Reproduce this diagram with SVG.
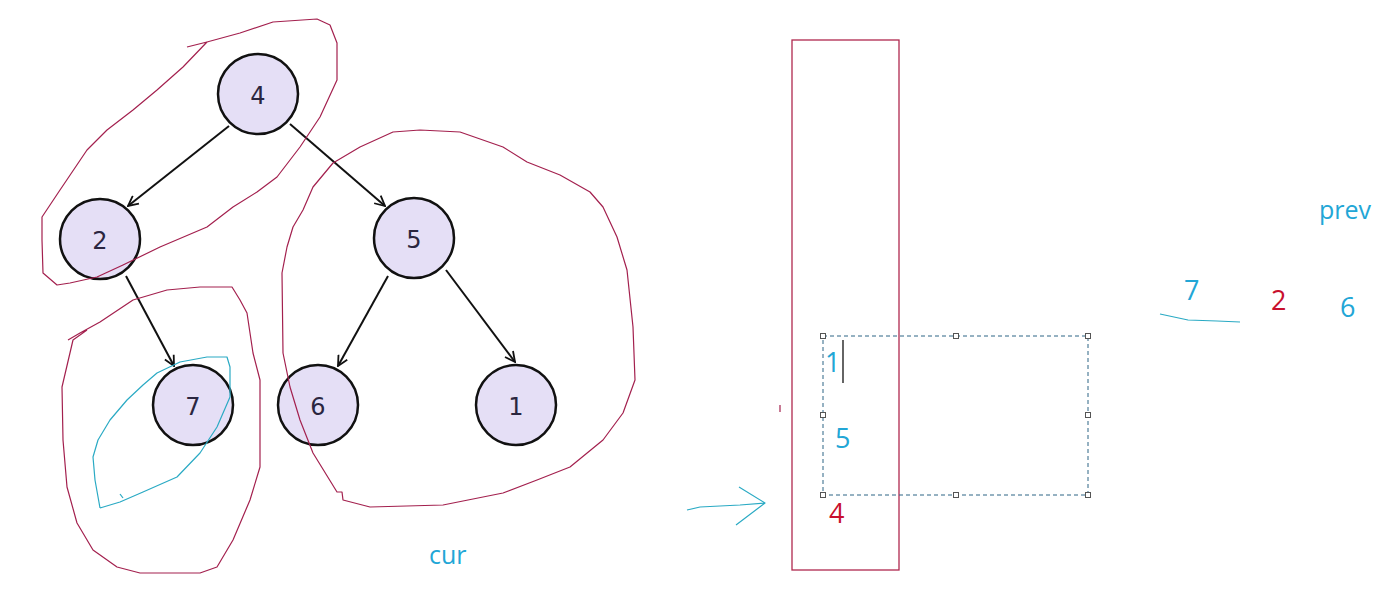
<svg xmlns="http://www.w3.org/2000/svg" width="1397" height="599" viewBox="0 0 1397 599">
<style>
.node circle{fill:#e5dff6;stroke:#111;stroke-width:2.5}
.node text{font-family:"DejaVu Sans",sans-serif;font-size:24px;fill:#2a2640;text-anchor:middle;dominant-baseline:central}
.edge{stroke:#111;stroke-width:2;fill:none;marker-end:url(#ah)}
.red{fill:none;stroke:#a3204e;stroke-width:1.2;stroke-linejoin:round}
.cy{fill:none;stroke:#2aaac4;stroke-width:1.2;stroke-linejoin:round}
.tc{font-family:"Open Sans","Noto Sans",sans-serif;font-size:25px;fill:#22a6d6}
.td{font-family:"Open Sans","Noto Sans",sans-serif;font-size:27px;fill:#22a6d6}
.tr{font-family:"Open Sans","Noto Sans",sans-serif;font-size:27px;fill:#c8102e}
.h{fill:#fff;stroke:#555;stroke-width:1}
</style>
<defs>
<marker id="ah" viewBox="0 0 12 12" refX="11" refY="6" markerWidth="12" markerHeight="12" markerUnits="userSpaceOnUse" orient="auto">
<path d="M1,1 L11,6 L1,11" fill="none" stroke="#111" stroke-width="1.8"/>
</marker>
</defs>
<rect width="1397" height="599" fill="#fff"/>
<g id="connectors">
<line class="edge" x1="229" y1="126" x2="128" y2="206"/>
<line class="edge" x1="290" y1="124" x2="385" y2="206"/>
<line class="edge" x1="126" y1="276" x2="174" y2="366"/>
<line class="edge" x1="388" y1="276" x2="338" y2="366"/>
<line class="edge" x1="446" y1="270" x2="515" y2="362"/>
</g>
<g id="node-4" class="node"><circle cx="258" cy="94" r="40"/><text x="258" y="96">4</text></g>
<g id="node-2" class="node"><circle cx="100" cy="239" r="40"/><text x="100" y="241">2</text></g>
<g id="node-5" class="node"><circle cx="414" cy="238" r="40"/><text x="414" y="240">5</text></g>
<g id="node-7" class="node"><circle cx="193" cy="405" r="40"/><text x="193" y="407">7</text></g>
<g id="node-6" class="node"><circle cx="318" cy="405" r="40"/><text x="318" y="407">6</text></g>
<g id="node-1" class="node"><circle cx="516" cy="405" r="40"/><text x="516" y="407">1</text></g>
<g id="annotations">
<path class="red" d="M187,47 L207,42 L240,33 L273,22 L317,19 L330,25 L337,43 L337,80 L320,117 L300,147 L277,177 L257,192 L233,207 L207,227 L160,247 L123,265 L97,277 L70,283 L57,285 L43,273 L42,240 L42,217 L60,190 L87,150 L107,130 L133,110 L157,90 L183,67 L207,42"/>
<path class="red" d="M68,340 L80,333 L100,322 L133,300 L167,290 L200,287 L232,287 L240,300 L247,313 L253,353 L260,380 L260,467 L250,500 L233,540 L217,567 L200,573 L140,573 L117,567 L93,550 L77,523 L67,487 L63,440 L62,387 L73,340 L87,330"/>
<path class="red" d="M333,163 L360,147 L393,132 L420,130 L460,132 L503,147 L527,162 L560,175 L590,192 L603,207 L617,237 L627,270 L633,327 L635,380 L623,413 L603,440 L570,467 L537,480 L503,493 L443,505 L370,507 L343,500 L342,492 L337,492 L313,453 L300,420 L290,387 L283,353 L282,273 L287,247 L293,227 L303,210 L313,187 L333,163"/>
<path class="cy" d="M100,508 L120,502 L143,492 L177,477 L200,453 L217,427 L230,397 L230,367 L227,357 L207,357 L180,362 L157,373 L143,385 L127,400 L110,420 L98,440 L93,457 L95,480 L100,508"/>
<path class="cy" d="M120,494 L123,498"/>
<rect x="792" y="40" width="107" height="530" fill="none" stroke="#b0284f" stroke-width="1.3"/>
<line x1="780" y1="405" x2="780" y2="412" stroke="#a3204e" stroke-width="1.2"/>
<rect x="823" y="336" width="265" height="159" fill="none" stroke="#2d6585" stroke-width="1" stroke-dasharray="4,3"/>
<rect class="h" x="820.5" y="333.5" width="5" height="5"/>
<rect class="h" x="953.5" y="333.5" width="5" height="5"/>
<rect class="h" x="1085.5" y="333.5" width="5" height="5"/>
<rect class="h" x="820.5" y="412.5" width="5" height="5"/>
<rect class="h" x="1085.5" y="412.5" width="5" height="5"/>
<rect class="h" x="820.5" y="492.5" width="5" height="5"/>
<rect class="h" x="953.5" y="492.5" width="5" height="5"/>
<rect class="h" x="1085.5" y="492.5" width="5" height="5"/>
<text class="td" x="825" y="372">1</text>
<line x1="843" y1="340" x2="843" y2="383" stroke="#111" stroke-width="1.3"/>
<text class="td" x="835" y="448">5</text>
<text class="tr" x="829" y="523">4</text>
<path class="cy" d="M687,510 L700,507 L740,505 L765,503 M739,487 L765,503 L736,525"/>
<text class="tc" x="429" y="564">cur</text>
<text class="tc" x="1319" y="219">prev</text>
<text class="td" x="1184" y="300">7</text>
<text class="tr" x="1271" y="310">2</text>
<text class="td" x="1340" y="317">6</text>
<path class="cy" d="M1160,314 L1188,320 L1217,321 L1240,322"/>
</g>
</svg>
